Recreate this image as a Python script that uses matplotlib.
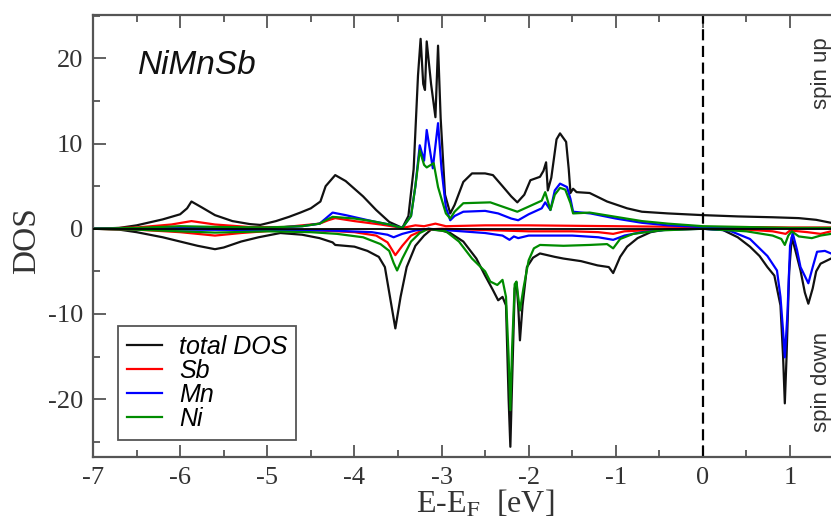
import matplotlib.pyplot as plt
from matplotlib.ticker import MultipleLocator

# ---------- DATA ----------
total_up_x = [-7.0, -6.7, -6.5, -6.2, -6.0, -5.92, -5.87, -5.75, -5.6, -5.4, -5.2, -5.08, -4.9, -4.75,
              -4.62, -4.5, -4.39, -4.33, -4.22, -4.1, -3.9, -3.75, -3.6, -3.45, -3.38, -3.32, -3.27,
              -3.24, -3.21, -3.19, -3.17, -3.12, -3.07, -3.04, -3.01, -2.96, -2.9, -2.85, -2.75, -2.65,
              -2.5, -2.41, -2.3, -2.2, -2.13, -2.05, -1.98, -1.87, -1.83, -1.8, -1.78, -1.74, -1.68,
              -1.64, -1.57, -1.54, -1.52, -1.49, -1.45, -1.3, -1.1, -0.87, -0.7, -0.4, 0.0, 0.4, 0.8,
              1.1, 1.3, 1.47]
total_up_y = [0, 0.1, 0.4, 1.1, 1.7, 2.4, 3.2, 2.5, 1.6, 0.9, 0.55, 0.45, 0.9, 1.4,
              1.9, 2.4, 3.2, 5.0, 6.3, 5.6, 3.8, 2.2, 0.8, 0.1, 1.5, 7.0, 18.0,
              22.3, 17.0, 16.3, 22.0, 17.0, 13.1, 21.5, 13.0, 4.0, 1.8, 2.8, 5.5, 6.5,
              6.5, 6.3, 5.0, 3.8, 3.1, 4.0, 5.7, 6.1, 6.8, 7.8, 4.5, 6.0, 10.5,
              11.2, 10.2, 7.0, 4.2, 4.7, 4.3, 4.2, 3.2, 2.4, 2.0, 1.8, 1.6, 1.45, 1.35,
              1.25, 1.05, 0.7]

total_dn_x = [-7.0, -6.7, -6.5, -6.2, -6.0, -5.8, -5.6, -5.5, -5.3, -5.1, -4.85, -4.6, -4.4, -4.25,
              -4.22, -4.0, -3.85, -3.72, -3.65, -3.6, -3.53, -3.47, -3.4, -3.3, -3.2, -3.12, -3.0,
              -2.9, -2.75, -2.6, -2.5, -2.41, -2.35, -2.3, -2.26, -2.23, -2.21, -2.19, -2.16, -2.14,
              -2.12, -2.1, -2.07, -2.02, -1.95, -1.87, -1.7, -1.6, -1.4, -1.21, -1.08, -1.03, -0.95,
              -0.87, -0.75, -0.6, -0.41, 0.0, 0.23, 0.4, 0.54, 0.65, 0.74, 0.82, 0.85, 0.89, 0.92,
              0.94, 0.96, 0.99, 1.02, 1.06, 1.12, 1.17, 1.21, 1.26, 1.3, 1.35, 1.47]
total_dn_y = [0, -0.1, -0.4, -1.0, -1.5, -2.0, -2.4, -2.2, -1.5, -1.0, -0.5, -0.7, -1.1, -1.6,
              -1.9, -2.1, -2.6, -3.3, -4.5, -7.5, -11.7, -8.0, -4.5, -2.0, -0.8, -0.1, -0.2,
              -0.5, -1.5, -3.5, -5.5, -7.2, -8.4, -8.0, -9.0, -20.0, -25.6, -18.0, -7.0, -6.3,
              -9.0, -13.1, -9.0, -4.5, -3.4, -2.9, -3.3, -3.5, -3.8, -4.3, -4.5, -5.2, -3.3,
              -2.1, -1.1, -0.4, -0.05, 0.0, -0.15, -1.0, -2.1, -3.2, -4.5, -5.5, -7.0, -9.0, -15.0,
              -20.5, -15.0, -5.0, -1.0, -2.5, -4.9, -7.5, -8.8, -7.0, -5.0, -4.1, -3.5]

sb_up_x = [-7.0, -6.5, -6.1, -5.87, -5.6, -5.2, -4.8, -4.4, -4.3, -4.22, -4.0, -3.7, -3.45, -3.3,
           -3.2, -3.07, -2.95, -2.5, -2.0, -1.5, -1.0, -0.5, 0.0, 0.5, 1.0, 1.47]
sb_up_y = [0, 0.15, 0.5, 0.9, 0.5, 0.2, 0.2, 0.6, 1.0, 1.25, 0.9, 0.5, 0.1, 0.4,
           0.3, 0.6, 0.3, 0.4, 0.4, 0.35, 0.3, 0.25, 0.2, 0.2, 0.15, 0.15]
sb_dn_x = [-7.0, -6.5, -6.0, -5.6, -5.3, -4.9, -4.4, -4.0, -3.75, -3.62, -3.53, -3.45, -3.35, -3.2,
           -3.0, -2.5, -2.0, -1.5, -1.2, -1.03, -0.9, -0.5, 0.0, 0.5, 0.8, 0.95, 1.0, 1.2, 1.35, 1.47]
sb_dn_y = [0, -0.1, -0.4, -0.8, -0.5, -0.2, -0.2, -0.4, -0.8, -1.6, -3.1, -2.0, -0.8, -0.1,
           0.0, -0.15, -0.3, -0.3, -0.4, -0.6, -0.3, -0.1, 0.0, -0.1, -0.3, -0.6, -0.2, -0.4, -0.6, -0.3]

mn_up_x = [-7.0, -6.5, -6.0, -5.5, -5.0, -4.6, -4.4, -4.33, -4.25, -4.1, -3.8, -3.6, -3.45, -3.35,
           -3.3, -3.25, -3.2, -3.17, -3.1, -3.04, -3.0, -2.95, -2.9, -2.85, -2.75, -2.5, -2.35, -2.2,
           -2.12, -2.0, -1.85, -1.81, -1.75, -1.7, -1.64, -1.56, -1.52, -1.49, -1.29, -1.0, -0.7,
           -0.4, 0.0, 0.5, 1.0, 1.47]
mn_up_y = [0, 0.05, 0.15, 0.1, 0.1, 0.3, 0.6, 1.2, 1.9, 1.6, 0.9, 0.5, 0.1, 1.5,
           5.0, 9.8, 8.0, 11.6, 7.1, 12.4, 7.0, 2.5, 1.0, 1.5, 2.0, 2.1, 1.8, 1.2,
           1.0, 1.7, 2.4, 3.1, 2.2, 4.5, 5.3, 4.9, 3.5, 2.0, 1.8, 1.2, 0.7,
           0.4, 0.2, 0.1, 0.05, 0.05]
mn_dn_x = [-7.0, -6.0, -5.0, -4.3, -3.8, -3.62, -3.55, -3.45, -3.3, -3.15, -2.9, -2.5, -2.3, -2.22,
           -2.17, -2.12, -2.0, -1.5, -1.2, -1.03, -0.9, -0.7, -0.4, 0.0, 0.3, 0.54, 0.74, 0.85, 0.89,
           0.92, 0.94, 0.97, 1.0, 1.03, 1.08, 1.12, 1.21, 1.26, 1.31, 1.4, 1.47]
mn_dn_y = [0, -0.1, -0.15, -0.2, -0.4, -0.7, -1.0, -0.6, -0.2, 0.0, -0.2, -0.5, -0.8, -1.3,
           -0.9, -1.1, -0.8, -0.8, -1.0, -1.3, -0.8, -0.4, -0.1, 0.0, -0.2, -1.2, -3.2, -4.9, -8.0,
           -12.0, -15.1, -10.0, -2.0, -0.5, -2.5, -4.5, -6.4, -4.5, -2.7, -2.6, -2.9]

ni_up_x = [-7.0, -6.5, -6.0, -5.5, -5.0, -4.6, -4.4, -4.33, -4.25, -4.0, -3.8, -3.6, -3.45, -3.35,
           -3.3, -3.25, -3.2, -3.17, -3.09, -3.04, -3.0, -2.95, -2.9, -2.85, -2.75, -2.44, -2.3,
           -2.13, -2.0, -1.85, -1.81, -1.75, -1.7, -1.64, -1.58, -1.52, -1.49, -1.3, -1.0, -0.7,
           -0.4, 0.0, 0.5, 1.0, 1.47]
ni_up_y = [0, 0.1, 0.3, 0.2, 0.15, 0.3, 0.6, 1.0, 1.4, 1.2, 0.9, 0.5, 0.1, 1.5,
           5.0, 9.2, 7.5, 7.2, 7.7, 4.9, 3.5, 1.8, 1.2, 2.0, 3.0, 3.1, 2.6,
           2.0, 2.6, 3.3, 4.3, 2.2, 4.0, 4.8, 4.6, 3.0, 1.8, 1.9, 1.4, 0.9,
           0.6, 0.3, 0.2, 0.1, 0.1]
ni_dn_x = [-7.0, -6.5, -6.0, -5.6, -5.0, -4.5, -4.2, -3.9, -3.7, -3.6, -3.55, -3.51, -3.45, -3.35,
           -3.25, -3.15, -2.95, -2.8, -2.65, -2.5, -2.44, -2.36, -2.3, -2.26, -2.23, -2.21, -2.19,
           -2.16, -2.14, -2.12, -2.1, -2.06, -2.0, -1.94, -1.87, -1.6, -1.3, -1.1, -1.03, -0.95,
           -0.8, -0.5, 0.0, 0.5, 0.8, 0.9, 0.94, 0.98, 1.02, 1.1, 1.25, 1.35, 1.47]
ni_dn_y = [0, -0.1, -0.3, -0.45, -0.3, -0.4, -0.6, -1.0, -1.8, -2.6, -4.0, -4.9, -3.5, -1.5,
           -0.5, 0.0, -0.3, -1.5, -3.5, -5.0, -6.2, -6.6, -6.0, -8.0, -15.0, -21.3, -14.0,
           -6.5, -6.2, -8.0, -9.6, -7.0, -3.7, -2.3, -1.9, -2.0, -1.9, -1.8, -2.3, -1.2,
           -0.6, -0.2, 0.0, -0.3, -0.8, -1.2, -1.9, -0.8, -0.3, -0.9, -1.1, -0.8, -0.6]

labels = ["total DOS", "Sb", "Mn", "Ni"]
colors = ["#111111", "#ff0000", "#0000ff", "#008c00"]

# ---------- PLOT ----------
plt.rcParams['font.family'] = ['Liberation Serif', 'DejaVu Serif']
plt.rcParams['mathtext.fontset'] = 'stix'
plt.rcParams['axes.unicode_minus'] = False

fig = plt.figure(figsize=(8.31, 5.21), dpi=100)
ax = fig.add_axes([93 / 831, 1 - 457 / 521, 1 - 93 / 831, 442 / 521])

series = [(total_up_x, total_up_y, total_dn_x, total_dn_y),
          (sb_up_x, sb_up_y, sb_dn_x, sb_dn_y),
          (mn_up_x, mn_up_y, mn_dn_x, mn_dn_y),
          (ni_up_x, ni_up_y, ni_dn_x, ni_dn_y)]

handles = []
for (ux, uy, dx, dy), lab, col in zip(series, labels, colors):
    h, = ax.plot(ux, uy, color=col, lw=1.6, label=lab)
    ax.plot(dx, dy, color=col, lw=1.6)
    handles.append(h)

ax.axhline(0, color="black", lw=1.3, zorder=5)
ax.axvline(0, color="black", lw=1.6, ls=(0, (5, 2.5)))

ax.set_xlim(-7, 1.47)
ax.set_ylim(-26.8, 25.1)
ax.xaxis.set_major_locator(MultipleLocator(1))
ax.xaxis.set_minor_locator(MultipleLocator(0.5))
ax.yaxis.set_major_locator(MultipleLocator(10))
ax.yaxis.set_minor_locator(MultipleLocator(5))
ax.tick_params(which="both", direction="in", top=True, right=False, color="#555555", width=1.3)
ax.tick_params(which="major", length=9, labelsize=19, pad=7, labelcolor="#333333")
ax.tick_params(which="minor", length=5)
for side in ["left", "bottom", "top"]:
    ax.spines[side].set_color("#555555")
    ax.spines[side].set_linewidth(1.6)
ax.spines["right"].set_visible(False)

ax.set_ylabel("DOS", fontsize=24, color="#333333")
ax.yaxis.set_label_coords(-0.069, 0.49)
ax.set_xlabel(r"E-E$_\mathrm{F}$  [eV]", fontsize=23, color="#333333")
ax.xaxis.set_label_coords(0.531, -0.072)

ax.text(0.061, 0.92, "NiMnSb", transform=ax.transAxes, fontsize=24, style="italic",
        family="Liberation Sans", ha="left", va="top", color="#111111")

fig.text(821 / 831, 1 - 73 / 521, "spin up", rotation=90, ha="center", va="center",
         fontsize=16, family="Liberation Sans", color="#333333")
fig.text(821 / 831, 1 - 382 / 521, "spin down", rotation=90, ha="center", va="center",
         fontsize=16, family="Liberation Sans", color="#333333")

leg = ax.legend(handles=handles, loc="lower left", bbox_to_anchor=(0.034, 0.0385),
                borderaxespad=0, fancybox=False, framealpha=1, edgecolor="#555555",
                prop={"family": "Liberation Sans", "style": "italic", "size": 18},
                handlelength=1.4, handletextpad=0.7, labelspacing=0.0, borderpad=0.35)
leg.get_frame().set_linewidth(1.3)

fig.savefig("out.png", dpi=100)
